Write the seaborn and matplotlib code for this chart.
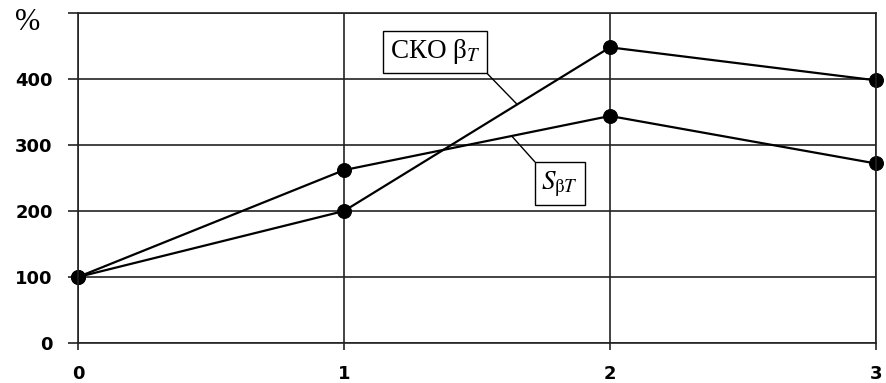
import numpy as np
import pandas as pd
import matplotlib
matplotlib.use('Agg')
import matplotlib.pyplot as plt
import seaborn as sns

# Data
steps = [0, 1, 2, 3]
sko_beta = [100, 200, 448, 398]
s_beta = [100, 262, 344, 272]
x_ticks = [0, 1, 2, 3]
y_ticks = [0, 100, 200, 300, 400, 500]
y_labels = ['0', '100', '200', '300', '400', '']

df = pd.DataFrame({
    'step': steps * 2,
    'value': sko_beta + s_beta,
    'series': ['sko'] * len(steps) + ['s'] * len(steps),
})

sns.set_style('white')
plt.rcParams['font.family'] = ['DejaVu Sans']
plt.rcParams['mathtext.fontset'] = 'stix'
plt.rcParams['text.color'] = 'black'

fig = plt.figure(figsize=(8.86, 3.83), dpi=100)
ax = fig.add_axes([0.088, 0.1044, 0.9007, 0.8616])

grid_col = '#222222'

sns.lineplot(data=df, x='step', y='value', hue='series',
             palette={'sko': 'black', 's': 'black'},
             marker='o', markersize=10, linewidth=1.6,
             markeredgecolor='black', legend=False, ax=ax)

ax.set_xlim(0, 3)
ax.set_ylim(0, 500)
ax.set_xticks(x_ticks)
ax.set_xticklabels([str(v) for v in x_ticks])
ax.set_yticks(y_ticks)
ax.set_yticklabels(y_labels)
ax.set_xlabel('')
ax.set_ylabel('')

ax.grid(True, color=grid_col, linewidth=1.2)
ax.set_axisbelow(True)
for sp in ax.spines.values():
    sp.set_color(grid_col)
    sp.set_linewidth(1.2)

ax.tick_params(axis='y', left=True, direction='out', length=7.2, width=1.2,
               color=grid_col, labelcolor='black', pad=11, labelsize=13)
ax.tick_params(axis='x', bottom=True, direction='out', length=5, width=1.2,
               color=grid_col, labelcolor='black', pad=11, labelsize=13)
for lab in ax.get_xticklabels() + ax.get_yticklabels():
    lab.set_fontweight('bold')

# clip_on off so the end markers are not cut at the axes edge
for ln in ax.lines:
    ln.set_clip_on(False)

fig.text(0.017, 0.94, '%', fontsize=22, family='Liberation Serif',
         color='black', ha='left', va='center')

box = dict(boxstyle='square,pad=0.25', fc='white', ec='black', lw=1)
ax.annotate('СКО β$_{T}$', xy=(1.65, 362), xytext=(1.342, 441),
            fontsize=19.5, family='Liberation Serif', color='black',
            ha='center', va='center', bbox=box,
            arrowprops=dict(arrowstyle='-', color='black', lw=1,
                            relpos=(1, 0), shrinkA=0, shrinkB=0))
ax.annotate(r'$S_{\mathrm{β}T}$', xy=(1.632, 313), xytext=(1.812, 241),
            fontsize=19.5, color='black', ha='center', va='center',
            bbox=box,
            arrowprops=dict(arrowstyle='-', color='black', lw=1,
                            relpos=(0, 1), shrinkA=0, shrinkB=0))

fig.savefig('out.png', dpi=100)
